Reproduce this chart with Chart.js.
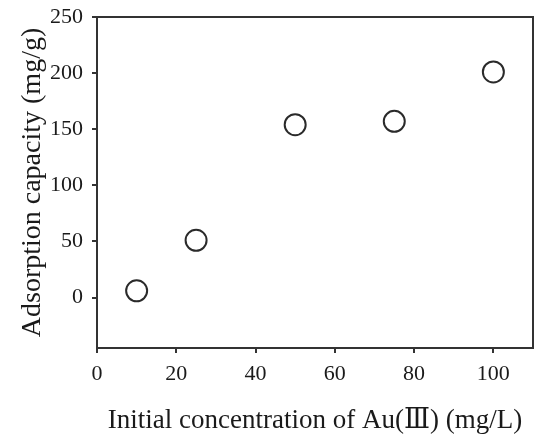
<!DOCTYPE html>
<html>
<head>
<meta charset="utf-8">
<script src="https://cdn.jsdelivr.net/npm/chart.js@4"></script>
<style>
  body { margin: 0; background: #fff; }
</style>
</head>
<body>
<canvas id="myChart" width="537" height="434"></canvas>
<script>
const ctx = document.getElementById("myChart");

let concentration = [10, 25, 50, 75, 100];
let capacity = [6, 51, 154, 157, 201];
let xTicks = [0, 20, 40, 60, 80, 100];
let yTicks = [0, 50, 100, 150, 200, 250];

const axisColor = "#333";
const textColor = "#1a1a1a";
const serif = "'Liberation Serif', 'DejaVu Serif', 'Noto Sans CJK SC', serif";

// top and right sides of the box
const frame = {
  id: "frame",
  beforeDatasetsDraw(chart) {
    const { ctx, chartArea: a } = chart;
    ctx.save();
    ctx.strokeStyle = axisColor;
    ctx.lineWidth = 2;
    ctx.strokeRect(a.left, a.top, a.right - a.left, a.bottom - a.top);
    ctx.restore();
  },
};

let chart = new Chart(ctx, {
  type: "scatter",
  data: {
    datasets: [
      {
        data: concentration.map((x, i) => ({ x: x, y: capacity[i] })),
        pointStyle: "circle",
        pointRadius: 10.5,
        pointHoverRadius: 10.5,
        borderWidth: 2,
        borderColor: "#2a2a2a",
        backgroundColor: "#fff",
      },
    ],
  },
  plugins: [frame],
  options: {
    responsive: false,
    animation: false,
    layout: {
      autoPadding: false,
      padding: { top: 17, right: 4, left: 16, bottom: 0 },
    },
    plugins: {
      legend: { display: false },
      tooltip: { enabled: false },
    },
    scales: {
      x: {
        type: "linear",
        min: 0,
        max: 110,
        afterBuildTicks: (axis) => {
          axis.ticks = xTicks.map((v) => ({ value: v }));
        },
        afterFit: (axis) => {
          axis.height = 86;
          axis.paddingLeft = 0;
          axis.paddingRight = 0;
        },
        grid: {
          drawOnChartArea: false,
          drawTicks: true,
          tickLength: 5,
          color: axisColor,
          lineWidth: 2,
        },
        border: { display: false },
        ticks: {
          color: textColor,
          padding: 8,
          maxRotation: 0,
          font: { family: serif, size: 22 },
        },
        title: {
          display: true,
          text: "Initial concentration of Au(Ⅲ) (mg/L)",
          color: textColor,
          padding: { top: 0, bottom: 0 },
          font: { family: serif, size: 27, lineHeight: 1 },
        },
      },
      y: {
        min: -45,
        max: 250,
        afterBuildTicks: (axis) => {
          axis.ticks = yTicks.map((v) => ({ value: v }));
        },
        afterFit: (axis) => {
          axis.width = 81;
          axis.paddingTop = 0;
          axis.paddingBottom = 0;
        },
        grid: {
          drawOnChartArea: false,
          drawTicks: true,
          tickLength: 5,
          color: axisColor,
          lineWidth: 2,
        },
        border: { display: false },
        ticks: {
          color: textColor,
          padding: 9,
          font: { family: serif, size: 22 },
        },
        title: {
          display: true,
          text: "Adsorption capacity (mg/g)",
          color: textColor,
          padding: { top: 0, bottom: 0 },
          font: { family: serif, size: 28 },
        },
      },
    },
  },
});
</script>
</body>
</html>
